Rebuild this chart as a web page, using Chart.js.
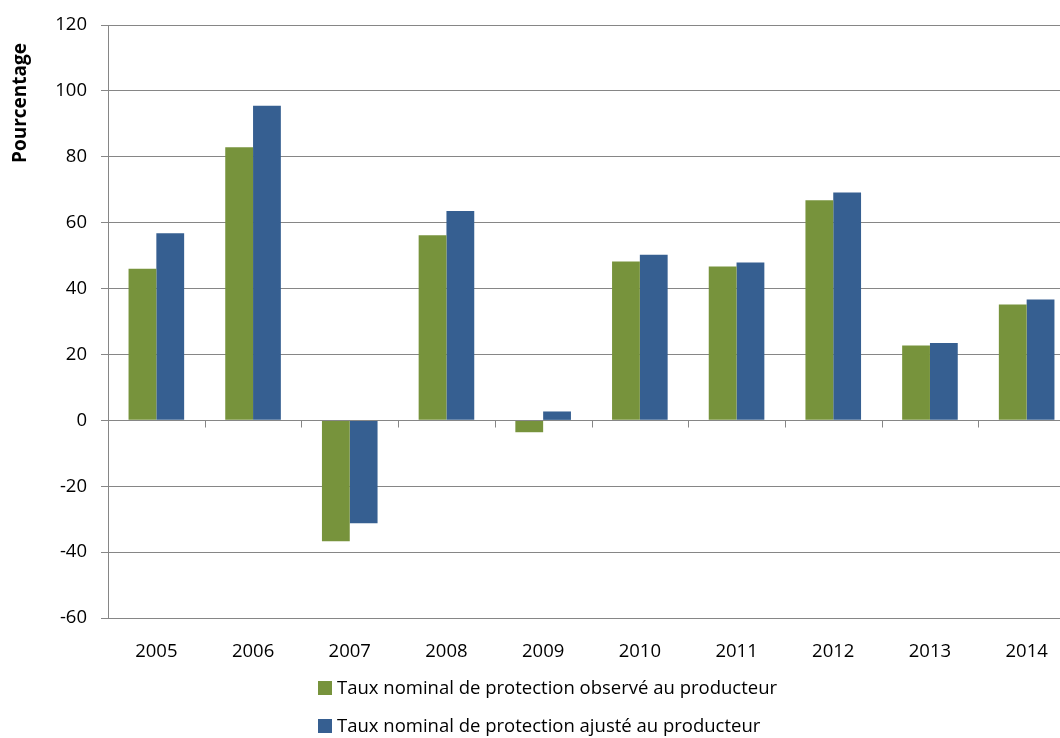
<!DOCTYPE html>
<html>
<head>
<meta charset="utf-8">
<script src="https://cdn.jsdelivr.net/npm/chart.js@4"></script>
<style>
  html, body { margin: 0; padding: 0; background: #fff; overflow: hidden; }
  #wrap { position: relative; width: 1075px; height: 738px; }
  #legend { position: absolute; left: 318px; top: 674px; font: 18.5px "Open Sans", sans-serif; color: #000; }
  #legend div { height: 38px; display: flex; align-items: flex-start; white-space: nowrap; }
  #legend span.box { display: inline-block; width: 14px; height: 14px; margin: 7px 5px 0 0; }
</style>
</head>
<body>
<div id="wrap">
  <canvas id="chart" width="1075" height="738"></canvas>
  <div id="legend"></div>
</div>
<script>
let years = ["2005", "2006", "2007", "2008", "2009", "2010", "2011", "2012", "2013", "2014"];
let observe = [46.0, 82.9, -36.7, 56.2, -3.6, 48.2, 46.7, 66.8, 22.7, 35.2];
let ajuste = [56.8, 95.5, -31.2, 63.6, 2.7, 50.3, 47.9, 69.2, 23.5, 36.7];
let nomObserve = "Taux nominal de protection observé au producteur";
let nomAjuste = "Taux nominal de protection ajusté au producteur";
let vert = "#77933C";
let bleu = "#365F91";
let gris = "#868686";

// petits traits sous la ligne du zéro, entre les catégories
let zeroTicks = {
    id: "zeroTicks",
    afterDatasetsDraw(chart) {
        let x = chart.scales.x, y = chart.scales.y, c = chart.ctx;
        let y0 = Math.round(y.getPixelForValue(0)) + 0.5;
        let w = (x.right - x.left) / years.length;
        c.save();
        c.strokeStyle = gris;
        c.lineWidth = 1;
        c.beginPath();
        c.moveTo(x.left, y0);
        c.lineTo(x.right, y0);
        for (let i = 1; i <= years.length; i++) {
            let px = Math.round(x.left + i * w) + 0.5;
            c.moveTo(px, y0);
            c.lineTo(px, y0 + 7);
        }
        c.stroke();
        c.restore();
    }
};

let axisTitle = {
    id: "axisTitle",
    afterDraw(chart) {
        let c = chart.ctx;
        c.save();
        c.translate(21, 103);
        c.rotate(-Math.PI / 2);
        c.font = "bold 19px 'Open Sans'";
        c.fillStyle = "#000";
        c.textAlign = "center";
        c.textBaseline = "middle";
        c.fillText("Pourcentage", 0, 0);
        c.restore();
    }
};

let ctx = document.getElementById("chart").getContext("2d");

let chart = new Chart(ctx, {
    type: "bar",
    data: {
        labels: years,
        datasets: [
            { label: nomObserve, data: observe, backgroundColor: vert },
            { label: nomAjuste, data: ajuste, backgroundColor: bleu }
        ]
    },
    options: {
        responsive: false,
        animation: false,
        layout: { padding: { top: 13, bottom: 70, left: 0, right: 0 } },
        datasets: { bar: { categoryPercentage: 0.575, barPercentage: 1.0 } },
        plugins: {
            legend: { display: false },
            tooltip: { enabled: false }
        },
        scales: {
            x: {
                grid: { display: false },
                border: { display: true, color: gris },
                ticks: { color: "#000", font: { family: "Open Sans", size: 18.5 }, padding: 15, maxRotation: 0 },
                afterFit: s => { s.height = 50; }
            },
            y: {
                min: -60,
                max: 120,
                ticks: { stepSize: 20, color: "#000", font: { family: "Open Sans", size: 18.5 }, padding: 14 },
                grid: { color: gris, tickLength: 7, tickColor: gris },
                border: { color: gris },
                afterFit: s => { s.width = 108; }
            }
        }
    },
    plugins: [zeroTicks, axisTitle]
});

let legend = document.getElementById("legend");
chart.data.datasets.forEach(ds => {
    let row = document.createElement("div");
    let box = document.createElement("span");
    box.className = "box";
    box.style.background = ds.backgroundColor;
    row.appendChild(box);
    row.appendChild(document.createTextNode(ds.label));
    legend.appendChild(row);
});
</script>
</body>
</html>
